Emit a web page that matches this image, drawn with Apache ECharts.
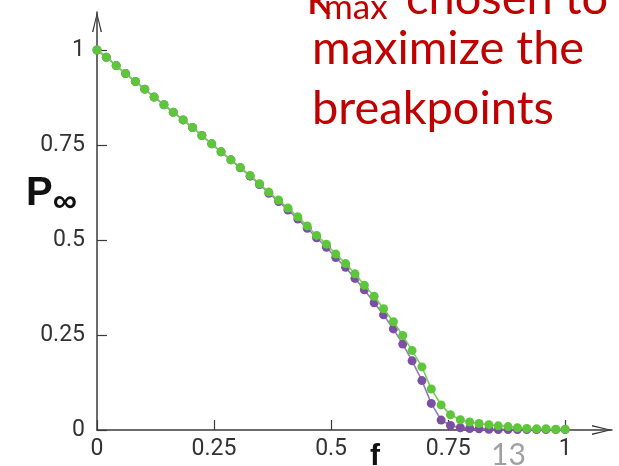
<!DOCTYPE html>
<html>
<head>
<meta charset="utf-8">
<script src="https://cdn.jsdelivr.net/npm/echarts@6/dist/echarts.min.js"></script>
<style>
  html, body { margin: 0; padding: 0; background: #fff; }
  #chart { width: 619px; height: 466px; }
</style>
</head>
<body>
<div id="chart"></div>
<script>
// Fraction of removed nodes f (50 evenly spaced samples from 0 to 1)
const fValues = [0.000, 0.020, 0.041, 0.061, 0.082, 0.102, 0.122, 0.143, 0.163, 0.184,
                 0.204, 0.224, 0.245, 0.265, 0.286, 0.306, 0.327, 0.347, 0.367, 0.388,
                 0.408, 0.429, 0.449, 0.469, 0.490, 0.510, 0.531, 0.551, 0.571, 0.592,
                 0.612, 0.633, 0.653, 0.673, 0.694, 0.714, 0.735, 0.755, 0.776, 0.796,
                 0.816, 0.837, 0.857, 0.878, 0.898, 0.918, 0.939, 0.959, 0.980, 1.000];

// Giant component size P_inf, green curve
const greenP = [1.000, 0.981, 0.959, 0.938, 0.917, 0.897, 0.876, 0.856, 0.836, 0.816,
                0.796, 0.775, 0.753, 0.732, 0.711, 0.691, 0.670, 0.648, 0.626, 0.605,
                0.584, 0.561, 0.537, 0.512, 0.489, 0.463, 0.438, 0.411, 0.381, 0.352,
                0.319, 0.285, 0.249, 0.209, 0.166, 0.108, 0.066, 0.040, 0.027, 0.021,
                0.017, 0.014, 0.011, 0.009, 0.006, 0.004, 0.003, 0.003, 0.002, 0.002];

// Giant component size P_inf, purple curve
const purpleP = [1.000, 0.981, 0.959, 0.938, 0.917, 0.897, 0.876, 0.856, 0.836, 0.816,
                 0.796, 0.775, 0.753, 0.732, 0.711, 0.690, 0.668, 0.646, 0.623, 0.601,
                 0.579, 0.555, 0.531, 0.506, 0.481, 0.454, 0.428, 0.399, 0.369, 0.335,
                 0.303, 0.266, 0.226, 0.182, 0.130, 0.070, 0.026, 0.012, 0.006, 0.004,
                 0.003, 0.002, 0.001, 0.001, 0.001, 0.001, 0.001, 0.001, 0.001, 0.001];

const tickValues = [0, 0.25, 0.5, 0.75, 1];

const pairs = (xs, ys) => xs.map((x, i) => [x, ys[i]]);

const axisColor = '#3a3a3a';
const labelFont = 'Roboto, sans-serif';
const noteFont = 'Lato, sans-serif';
const noteColor = '#c00000';
// open chevron arrow head, tip pointing up in its own frame
const chevron = 'path://M5,0 L10,20 L8.6,20 L5,4 L1.4,20 L0,20 Z';

const chart = echarts.init(document.getElementById('chart'), null, { renderer: 'canvas' });

chart.setOption({
  animation: false,
  backgroundColor: '#ffffff',
  grid: { left: 97, right: 7, top: 12, bottom: 36 },
  xAxis: {
    type: 'value',
    min: 0,
    max: 1.1,
    splitLine: { show: false },
    axisLine: {
      lineStyle: { color: axisColor, width: 1.5 },
      symbol: ['none', chevron],
      symbolSize: [11, 20],
      symbolOffset: [0, -10]
    },
    axisTick: { show: true, inside: true, length: 10, customValues: tickValues,
                lineStyle: { color: axisColor, width: 1.2 } },
    axisLabel: { customValues: tickValues, color: '#333', fontSize: 23,
                 fontFamily: labelFont, margin: 8 }
  },
  yAxis: {
    type: 'value',
    min: 0,
    max: 1.1,
    splitLine: { show: false },
    axisLine: {
      show: true,
      lineStyle: { color: axisColor, width: 1.5 },
      symbol: ['none', chevron],
      symbolSize: [10, 20],
      symbolOffset: [0, -10]
    },
    axisTick: { show: true, inside: true, length: 10, customValues: tickValues,
                lineStyle: { color: axisColor, width: 1.2 } },
    axisLabel: { customValues: tickValues, color: '#333', fontSize: 23,
                 fontFamily: labelFont, margin: 12 }
  },
  series: [
    {
      name: 'purple',
      type: 'line',
      data: pairs(fValues, purpleP),
      symbol: 'circle',
      symbolSize: 9,
      showSymbol: true,
      clip: false,
      itemStyle: { color: '#7b4fa3' },
      lineStyle: { color: '#9a78bd', width: 1.6 },
      z: 2
    },
    {
      name: 'green',
      type: 'line',
      data: pairs(fValues, greenP),
      symbol: 'circle',
      symbolSize: 9,
      showSymbol: true,
      clip: false,
      itemStyle: { color: '#5ec63a' },
      lineStyle: { color: '#74d154', width: 1.6 },
      z: 3
    }
  ],
  graphic: [
    // y-axis name P with infinity subscript
    { type: 'text', left: 26, top: 174,
      style: { text: '{p|P}{s|∞}',
               rich: { p: { fontSize: 40, fontFamily: 'Liberation Sans, Arial, sans-serif', fontWeight: 'bold', fill: '#111', verticalAlign: 'bottom' },
                       s: { fontSize: 34, fontFamily: 'Liberation Sans, Arial, sans-serif', fontWeight: 'bold', fill: '#111', verticalAlign: 'bottom', padding: [0, 0, -6, 0] } } } },
    // x-axis name
    { type: 'text', left: 370, top: 442,
      style: { text: 'f', fontSize: 30, fontWeight: 'bold', fontFamily: 'Liberation Sans, Arial, sans-serif', fill: '#111' } },
    // slide number
    { type: 'text', left: 491, top: 440,
      style: { text: '13', fontSize: 30, fontFamily: noteFont, fill: '#a0a0a0' } },
    // annotation in red
    { type: 'text', x: 307, y: 22,
      style: { text: 'k', fontSize: 47, fontFamily: noteFont, fill: noteColor, verticalAlign: 'bottom' } },
    { type: 'text', x: 324, y: 25,
      style: { text: 'max', fontSize: 35, fontFamily: noteFont, fill: noteColor, verticalAlign: 'bottom' } },
    { type: 'text', x: 406, y: 22,
      style: { text: 'chosen to', fontSize: 47, fontFamily: noteFont, fill: noteColor, verticalAlign: 'bottom' } },
    { type: 'text', x: 312, y: 72,
      style: { text: 'maximize the', fontSize: 47, fontFamily: noteFont, fill: noteColor, verticalAlign: 'bottom' } },
    { type: 'text', x: 312, y: 132,
      style: { text: 'breakpoints', fontSize: 47, fontFamily: noteFont, fill: noteColor, verticalAlign: 'bottom' } }
  ]
});
</script>
</body>
</html>
